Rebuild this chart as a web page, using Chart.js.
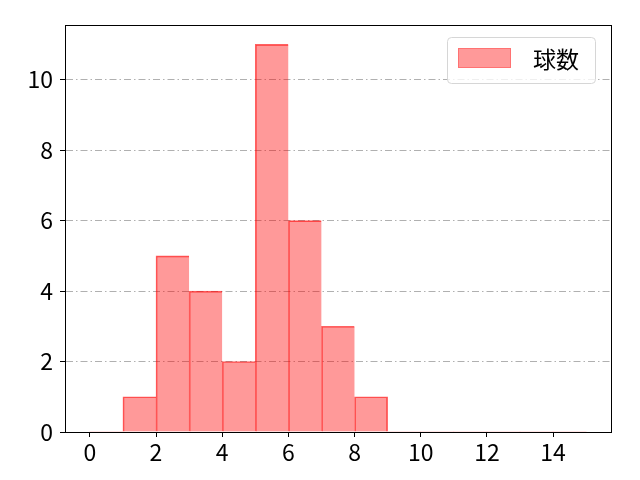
<!DOCTYPE html>
<html>
<head>
<meta charset="utf-8">
<script src="https://cdn.jsdelivr.net/npm/chart.js@4/dist/chart.umd.min.js"></script>
<style>
html,body{margin:0;padding:0;background:#fff;}
#wrap{width:640px;height:480px;}
</style>
</head>
<body>
<div id="wrap"><canvas id="c" width="640" height="480"></canvas></div>
<script>
const binStarts = [0,1,2,3,4,5,6,7,8,9,10,11,12,13,14];
const counts    = [0,1,5,4,2,11,6,3,1,0,0,0,0,0,0];
const xTicks = [0,2,4,6,8,10,12,14];
const yTicks = [0,2,4,6,8,10];
const seriesLabel = '球数';

const FONT = "'Noto Sans CJK JP', 'Noto Sans', sans-serif";
const FILL = 'rgba(255,0,0,0.4)';
const EDGE = 'rgba(255,0,0,0.62)';

const framePlugin = {
  id: 'frame',
  afterDraw(chart) {
    const {ctx, chartArea: a} = chart;
    ctx.save();
    ctx.strokeStyle = '#000';
    ctx.lineWidth = 1;
    ctx.setLineDash([]);
    ctx.strokeRect(Math.round(a.left)+0.5, Math.round(a.top)+0.5, Math.round(a.right-a.left), Math.round(a.bottom-a.top));
    // legend
    const bx = a.right - 164, by = a.top + 12, bw = 148, bh = 46;
    ctx.beginPath();
    ctx.roundRect(bx+0.5, by+0.5, bw, bh, 4);
    ctx.fillStyle = 'rgba(255,255,255,0.8)';
    ctx.fill();
    ctx.strokeStyle = '#d6d6d6';
    ctx.stroke();
    ctx.fillStyle = FILL;
    ctx.fillRect(bx+11, by+11, 53, 20);
    ctx.strokeStyle = 'rgba(255,0,0,0.25)';
    ctx.strokeRect(bx+11.5, by+11.5, 52, 19);
    ctx.fillStyle = '#000';
    ctx.font = '23px ' + FONT;
    ctx.textBaseline = 'middle';
    ctx.textAlign = 'left';
    ctx.fillText(chart.data.datasets[0].label, bx+86, by+22);
    ctx.restore();
  }
};

new Chart(document.getElementById('c'), {
  type: 'bar',
  data: {
    datasets: [{
      label: seriesLabel,
      data: binStarts.map((s,i) => ({x: s + 0.5, y: counts[i]})),
      backgroundColor: FILL,
      borderColor: EDGE,
      borderWidth: ctx => {
        const i = ctx.dataIndex;
        if (!counts[i]) return 0;
        return {left: 1, top: 1, bottom: 0, right: counts[i+1] ? 0 : 1};
      },
      borderSkipped: false,
      barPercentage: 1,
      categoryPercentage: 1
    }]
  },
  options: {
    responsive: false,
    devicePixelRatio: 1,
    animation: false,
    layout: {padding: {left: 0, right: 29, top: 25, bottom: 0}},
    plugins: {legend: {display: false}, tooltip: {enabled: false}},
    scales: {
      x: {
        type: 'linear',
        min: -0.75, max: 15.75,
        offset: false,
        afterBuildTicks: s => { s.ticks = xTicks.map(v => ({value: v})); },
        afterFit: s => { s.height = 48; },
        grid: {offset: false, drawOnChartArea: false, tickLength: 5, color: '#000', tickColor: '#000'},
        border: {display: true, color: '#000', width: 1},
        ticks: {color: '#000', font: {family: FONT, size: 23}, padding: 1, maxRotation: 0, autoSkip: false}
      },
      y: {
        min: 0, max: 11.55,
        afterBuildTicks: s => { s.ticks = yTicks.map(v => ({value: v})); },
        afterFit: s => { s.width = 65; },
        grid: {color: '#b0b0b0', lineWidth: 1, tickLength: 5, tickColor: '#000', tickBorderDash: [], tickWidth: 1},
        border: {display: true, color: '#000', width: 1, dash: [7,3,1.5,3]},
        ticks: {color: '#000', font: {family: FONT, size: 23}, padding: 7, autoSkip: false}
      }
    }
  },
  plugins: [framePlugin]
});
</script>
</body>
</html>
